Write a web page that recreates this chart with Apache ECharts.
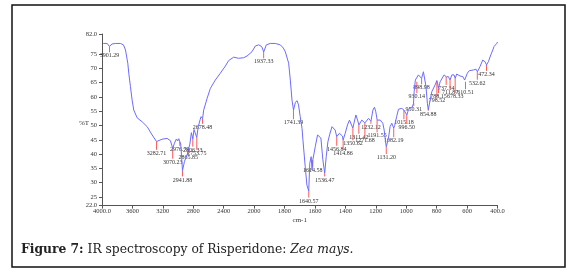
<!DOCTYPE html>
<html>
<head>
<meta charset="utf-8">
<script src="https://cdn.jsdelivr.net/npm/echarts@6.0.0/dist/echarts.min.js"></script>
<style>
html,body{margin:0;padding:0;background:#fff;}
#ir{width:575px;height:277px;}
</style>
</head>
<body>
<div id="ir"></div>
<script>
// spectrum: wavenumber (cm-1) and %T
var wn = [3984,3932,3901,3870,3823,3757,3718,3691,3661,3648,
	3626,3604,3582,3538,3472,3406,3341,3283,3210,3144,
	3100,3070,3048,3022,3005,2991,2977,2965,2952,2942,
	2915,2881,2866,2845,2825,2806,2790,2770,2754,2735,
	2710,2697,2678,2663,2618,2575,2510,2444,2378,2335,
	2269,2204,2138,2093,2028,1992,1970,1950,1937,1920,
	1894,1861,1828,1808,1795,1773,1762,1751,1741,1729,
	1718,1708,1697,1685,1679,1664,1653,1641,1634,1625,
	1619,1614,1598,1583,1570,1561,1548,1536,1526,1515,
	1504,1488,1478,1467,1457,1439,1427,1419,1415,1401,
	1386,1373,1364,1351,1331,1320,1311,1292,1281,1272,
	1248,1232,1219,1209,1200,1191,1171,1154,1145,1136,
	1131,1117,1106,1095,1082,1076,1063,1051,1029,1015,
	1005,996,986,975,960,952,948,940,931,920,
	909,899,887,881,870,861,855,843,832,822,
	810,799,794,788,777,751,742,737,723,716,
	712,700,686,678,668,646,628,616,610,598,
	585,559,541,532,526,515,497,482,472,460,
	444,431,423,416,405,400];
var pt = [78.7,78.7,77.6,78.5,78.7,78.7,78.2,76.4,71.8,68.3,
	63.6,58.9,55.4,52.7,51.3,49.6,46.7,44.4,45.2,45.5,
	44.7,42.0,43.8,45.3,44.6,45.4,44.3,43.5,38.5,34.2,
	37.5,39.7,41.5,43.5,47.5,45.3,48.6,48.0,45.8,49.6,
	52.0,53.1,52.4,55.4,59.5,63.0,65.9,68.3,70.8,72.7,
	73.9,73.5,73.7,74.3,75.8,77.8,78.2,77.6,75.7,78.2,
	78.7,78.7,78.2,77.1,75.8,71.8,65.9,58.9,55.4,58.0,
	58.7,57.2,53.1,49.0,44.9,35.6,29.2,27.1,36.8,39.1,
	34.4,38.0,42.6,46.7,47.0,45.6,38.0,33.3,39.1,44.3,
	46.7,49.6,50.2,48.4,46.1,47.3,47.8,46.3,44.9,47.3,
	50.2,51.9,51.3,49.1,53.7,51.9,50.2,51.9,51.9,50.9,
	52.5,51.5,55.4,56.4,54.8,51.9,51.9,50.8,48.4,44.3,
	42.6,45.5,49.6,50.8,49.1,50.0,53.1,55.7,56.0,55.4,
	56.0,53.7,55.4,56.1,56.5,57.8,61.8,65.9,65.3,67.7,
	68.3,66.5,68.8,69.4,63.6,57.8,55.4,58.9,61.8,61.8,
	64.2,65.7,64.8,63.0,65.3,67.7,68.0,67.0,67.1,66.8,
	65.9,67.7,67.7,66.5,68.0,67.3,67.1,65.9,65.3,68.3,
	69.2,69.4,69.7,68.8,68.3,70.6,72.9,72.3,71.2,72.3,
	74.7,76.4,77.6,77.0,78.7,79.2];

// peak picks: wavenumber, %T at the tip of the red mark and at its foot
var peakWn = [3901.29,3282.71,3070.23,2976.79,2941.88,2865.85,2806.33,2753.75,2678.48,1937.33,
	1741.39,1640.57,1614.58,1536.47,1456.84,1414.86,1350.62,1311.42,1271.68,1232.12,
	1191.55,1131.20,1082.19,1015.18,996.50,950.31,930.14,898.98,854.88,798.52,
	788.15,737.34,711.87,678.33,610.51,532.62,472.34];
var peakTop = [77.6,44.4,42.0,44.3,34.2,41.5,45.3,45.8,52.4,75.7,
	55.4,27.1,38.0,33.3,46.1,44.9,49.1,50.2,50.9,51.5,
	51.9,42.6,49.1,55.4,53.7,57.8,65.3,66.5,55.4,65.7,
	63.0,67.0,65.9,66.5,65.3,68.8,71.2];
var peakEnd = [75.6,41.5,38.4,42.9,32.2,40.2,42.6,41.5,50.6,73.5,
	52.2,24.8,35.4,32.2,42.9,41.5,44.8,47.1,45.9,50.6,
	47.6,40.0,45.9,52.2,50.6,56.9,61.3,64.4,55.2,59.9,
	61.3,64.2,62.7,61.3,62.7,66.0,69.1];

var yTicks = [22,25,30,35,40,45,50,55,60,65,70,75,82];

// x scale is split: 400 cm-1 per division above 2000, 200 below
function toPos(w){
	return w >= 2000 ? (4000 - w) / 400 : 5 + (2000 - w) / 200;
}
function toWn(p){
	return p <= 5 ? 4000 - 400 * p : 2000 - 200 * (p - 5);
}

var lineData = [];
for(var i=0;i<wn.length;i++){
	lineData.push([toPos(wn[i]), pt[i]]);
}
var peakData = [];
for(var j=0;j<peakWn.length;j++){
	peakData.push([toPos(peakWn[j]), peakTop[j], peakEnd[j], j]);
}

var tickFont = {fontFamily:'Liberation Serif', fontSize:6.5, color:'#333'};

var chart = echarts.init(document.getElementById('ir'), null, {renderer:'canvas'});
var option = {
	animation:false,
	grid:{left:102, right:77.5, top:34, bottom:71.4},
	xAxis:{
		type:'value',
		min:0, max:13, interval:1,
		name:'cm-1', nameLocation:'middle', nameGap:11, nameMoveOverlap:false,
		nameTextStyle:{fontFamily:'Liberation Serif', fontSize:7, color:'#333'},
		axisLine:{lineStyle:{color:'#555', width:1}},
		axisTick:{length:3, lineStyle:{color:'#555'}},
		axisLabel:Object.assign({margin:2, formatter:function(v){
			if(v === 0 || v === 13) return toWn(v).toFixed(1);
			return String(toWn(v));
		}}, tickFont),
		splitLine:{show:false}
	},
	yAxis:{
		type:'value',
		min:22, max:82,
		name:'%T', nameLocation:'middle', nameRotate:0, nameGap:13, nameMoveOverlap:false,
		nameTextStyle:{fontFamily:'Liberation Serif', fontSize:7, color:'#333', verticalAlign:'top'},
		axisLine:{show:true, lineStyle:{color:'#555', width:1}},
		axisTick:{show:true, length:3, customValues:yTicks, lineStyle:{color:'#555'}},
		axisLabel:Object.assign({margin:5, customValues:yTicks, formatter:function(v){
			return (v === 22 || v === 82) ? v.toFixed(1) : String(v);
		}}, tickFont),
		splitLine:{show:false}
	},
	series:[
		{
			name:'spectrum',
			type:'line',
			data:lineData,
			showSymbol:false,
			lineStyle:{color:'#6b6bff', width:1},
			z:3
		},
		{
			name:'peaks',
			type:'custom',
			data:peakData,
			z:2,
			renderItem:function(params, api){
				var top = api.coord([api.value(0), api.value(1)]);
				var end = api.coord([api.value(0), api.value(2)]);
				return {
					type:'group',
					children:[
						{type:'line', shape:{x1:top[0], y1:top[1], x2:end[0], y2:end[1]},
							style:{stroke:'#ff5a5a', lineWidth:1}},
						{type:'text', x:end[0], y:end[1] + 0.5,
							style:{text:peakWn[api.value(3)].toFixed(2), align:'center', verticalAlign:'top',
								fontFamily:'Liberation Serif', fontSize:6, fill:'#333'}}
					]
				};
			}
		}
	],
	graphic:[
		{type:'rect', shape:{x:12, y:5, width:553, height:262},
			style:{fill:null, stroke:'#111', lineWidth:1.5}, silent:true},
		{type:'text', x:21, y:250,
			style:{
				text:'{b|Figure 7:} IR spectroscopy of Risperidone: {i|Zea mays.}',
				verticalAlign:'middle',
				fontFamily:'DejaVu Serif', fontSize:12.3, fill:'#222',
				rich:{
					b:{fontWeight:'bold', fontFamily:'DejaVu Serif', fontSize:12.3, fill:'#222'},
					i:{fontStyle:'italic', fontFamily:'DejaVu Serif', fontSize:12.3, fill:'#222'}
				}
			}}
	]
};
chart.setOption(option);
</script>
</body>
</html>
